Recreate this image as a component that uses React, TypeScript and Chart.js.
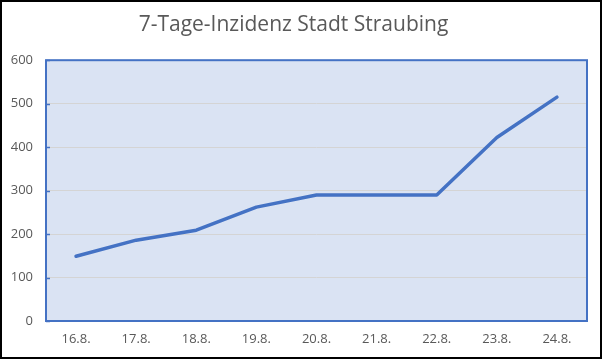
import React, { useEffect, useRef } from "react";
import { Chart, registerables } from "chart.js";

Chart.register(...registerables);

const categories = ["16.8.", "17.8.", "18.8.", "19.8.", "20.8.", "21.8.", "22.8.", "23.8.", "24.8."];
const incidence = [149, 186, 209, 262, 290, 290, 290, 422, 515];
const yTicks = [0, 100, 200, 300, 400, 500, 600];
const titleText = "7-Tage-Inzidenz Stadt Straubing";

const FONT = "'Open Sans', 'Liberation Sans', sans-serif";

const framePlugin = {
  id: "framePlugin",
  beforeDraw(chart: any) {
    const { ctx, chartArea } = chart;
    ctx.save();
    ctx.fillStyle = "#ffffff";
    ctx.fillRect(0, 0, chart.width, chart.height);
    ctx.fillStyle = "#DAE3F3";
    ctx.fillRect(chartArea.left, chartArea.top, chartArea.right - chartArea.left, chartArea.bottom - chartArea.top);
    ctx.restore();
  },
  beforeDatasetsDraw(chart: any) {
    const { ctx, chartArea, scales } = chart;
    ctx.save();
    ctx.strokeStyle = "#4472C4";
    ctx.lineWidth = 2;
    ctx.strokeRect(chartArea.left, chartArea.top, chartArea.right - chartArea.left, chartArea.bottom - chartArea.top);
    ctx.lineWidth = 1.5;
    for (const v of yTicks) {
      const y = Math.round(scales.y.getPixelForValue(v)) + 0.5;
      ctx.beginPath();
      ctx.moveTo(chartArea.left, y);
      ctx.lineTo(chartArea.left + 4, y);
      ctx.stroke();
    }
    ctx.restore();
  },
  afterDraw(chart: any) {
    const { ctx } = chart;
    ctx.save();
    ctx.strokeStyle = "#000000";
    ctx.lineWidth = 2;
    ctx.strokeRect(1, 1, chart.width - 2, chart.height - 2);
    ctx.restore();
  },
};

export default function App() {
  const ref = useRef<HTMLCanvasElement | null>(null);
  useEffect(() => {
    document.body.style.margin = "0";
    if (!ref.current) return;
    const chart = new Chart(ref.current, {
      type: "line",
      data: {
        labels: categories,
        datasets: [
          {
            data: incidence,
            borderColor: "#4472C4",
            borderWidth: 3.5,
            pointRadius: 0,
            tension: 0,
            borderCapStyle: "round",
            borderJoinStyle: "round",
          },
        ],
      },
      options: {
        animation: false,
        responsive: false,
        maintainAspectRatio: false,
        devicePixelRatio: 1,
        layout: { padding: { left: 0, right: 15, top: 0, bottom: 0 } },
        plugins: {
          legend: { display: false },
          tooltip: { enabled: false },
          title: {
            display: true,
            text: titleText,
            color: "#595959",
            font: { family: FONT, size: 21, weight: "normal" },
            padding: { top: 12, bottom: 23 },
          },
        },
        scales: {
          x: {
            type: "category",
            offset: true,
            grid: { display: false, drawTicks: false },
            border: { display: false },
            ticks: {
              color: "#595959",
              font: { family: FONT, size: 13 },
              padding: 10,
              maxRotation: 0,
            },
            afterFit(scale: any) {
              scale.height = 38;
            },
          },
          y: {
            min: 0,
            max: 600,
            afterBuildTicks(scale: any) {
              scale.ticks = yTicks.map((v) => ({ value: v }));
            },
            grid: { color: "#D4D4D4", lineWidth: 1, drawTicks: false },
            border: { display: false },
            ticks: {
              color: "#595959",
              font: { family: FONT, size: 13 },
              padding: 13,
            },
            afterFit(scale: any) {
              scale.width = 46;
            },
          },
        },
      },
      plugins: [framePlugin],
    });
    return () => chart.destroy();
  }, []);
  return (
    <div style={{ width: 602, height: 359 }}>
      <canvas ref={ref} width={602} height={359} style={{ display: "block", width: 602, height: 359 }} />
    </div>
  );
}
